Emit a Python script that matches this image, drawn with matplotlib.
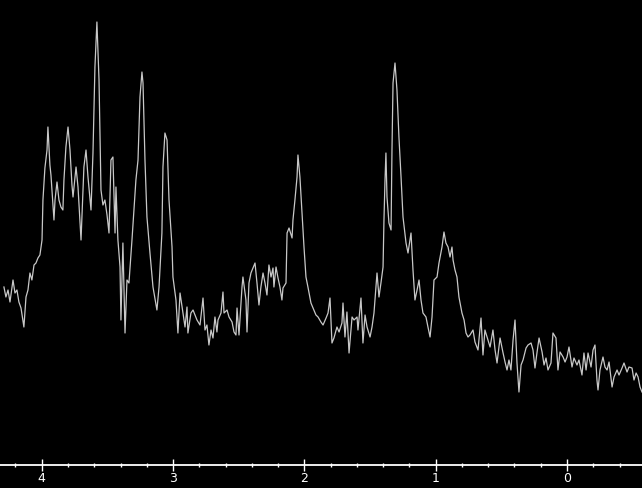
import matplotlib.pyplot as plt
from matplotlib.ticker import MultipleLocator

# chemical shift (ppm) and intensity (arbitrary units)
shift = [
    4.288, 4.273, 4.257, 4.242, 4.219, 4.204, 4.189, 4.174, 4.158, 4.136,
    4.120, 4.105, 4.090, 4.075, 4.059, 4.044, 4.029, 4.014, 3.998, 3.991,
    3.976, 3.960, 3.953, 3.938, 3.930, 3.915, 3.907, 3.899, 3.884, 3.869,
    3.854, 3.839, 3.831, 3.816, 3.800, 3.785, 3.770, 3.762, 3.739, 3.724,
    3.701, 3.679, 3.663, 3.648, 3.625, 3.610, 3.595, 3.580, 3.564, 3.549,
    3.534, 3.519, 3.503, 3.488, 3.473, 3.458, 3.442, 3.435, 3.420, 3.404,
    3.397, 3.382, 3.366, 3.351, 3.336, 3.313, 3.290, 3.283, 3.267, 3.252,
    3.237, 3.229, 3.214, 3.199, 3.176, 3.153, 3.123, 3.107, 3.085, 3.077,
    3.062, 3.046, 3.031, 3.008, 3.001, 2.978, 2.963, 2.947, 2.925, 2.909,
    2.894, 2.887, 2.864, 2.848, 2.818, 2.795, 2.772, 2.757, 2.742, 2.727,
    2.711, 2.696, 2.681, 2.666, 2.658, 2.635, 2.620, 2.612, 2.589, 2.574,
    2.551, 2.536, 2.521, 2.513, 2.498, 2.475, 2.468, 2.445, 2.437, 2.422,
    2.407, 2.376, 2.361, 2.346, 2.331, 2.315, 2.300, 2.285, 2.270, 2.254,
    2.239, 2.232, 2.216, 2.201, 2.186, 2.171, 2.163, 2.140, 2.132, 2.117,
    2.094, 2.087, 2.072, 2.056, 2.049, 2.034, 2.018, 2.003, 1.988, 1.973,
    1.950, 1.934, 1.912, 1.896, 1.874, 1.858, 1.835, 1.820, 1.805, 1.790,
    1.775, 1.752, 1.736, 1.714, 1.706, 1.691, 1.676, 1.660, 1.637, 1.622,
    1.599, 1.592, 1.569, 1.554, 1.538, 1.523, 1.500, 1.485, 1.470, 1.455,
    1.447, 1.432, 1.417, 1.401, 1.394, 1.386, 1.379, 1.371, 1.356, 1.340,
    1.333, 1.325, 1.310, 1.295, 1.280, 1.264, 1.249, 1.226, 1.211, 1.188,
    1.173, 1.158, 1.142, 1.127, 1.112, 1.097, 1.074, 1.059, 1.043, 1.028,
    1.013, 0.990, 0.975, 0.952, 0.937, 0.922, 0.906, 0.891, 0.876, 0.868,
    0.853, 0.838, 0.823, 0.800, 0.784, 0.769, 0.754, 0.739, 0.716, 0.701,
    0.678, 0.655, 0.640, 0.625, 0.609, 0.586, 0.564, 0.548, 0.533, 0.510,
    0.487, 0.472, 0.457, 0.442, 0.427, 0.411, 0.396, 0.381, 0.366, 0.350,
    0.335, 0.312, 0.297, 0.274, 0.259, 0.244, 0.228, 0.213, 0.190, 0.175,
    0.160, 0.145, 0.122, 0.107, 0.084, 0.069, 0.053, 0.030, 0.015, 0.000,
    -0.015, -0.038, -0.053, -0.076, -0.091, -0.114, -0.129, -0.145, -0.160, -0.183,
    -0.198, -0.213, -0.228, -0.236, -0.251, -0.274, -0.289, -0.305, -0.320, -0.343,
    -0.358, -0.381, -0.396, -0.419, -0.434, -0.457, -0.472, -0.495, -0.510, -0.526,
    -0.541, -0.556, -0.571,
]
intensity = [
    178, 168, 175, 163, 185, 172, 175, 163, 157, 138,
    168, 175, 192, 185, 200, 202, 207, 210, 225, 265,
    297, 315, 338, 300, 290, 260, 245, 265, 283, 265,
    258, 255, 285, 318, 338, 315, 280, 268, 298, 278,
    225, 298, 315, 288, 255, 312, 398, 443, 385, 275,
    260, 265, 250, 232, 305, 308, 232, 278, 225, 198,
    145, 222, 132, 185, 182, 225, 272, 285, 305, 368,
    393, 382, 305, 248, 212, 178, 155, 178, 232, 298,
    332, 325, 265, 218, 188, 165, 132, 172, 152, 138,
    158, 132, 152, 155, 145, 140, 167, 135, 140, 120,
    135, 127, 148, 133, 145, 152, 173, 152, 155, 148,
    143, 133, 130, 157, 130, 178, 188, 165, 133, 182,
    192, 202, 182, 160, 178, 192, 182, 170, 200, 188,
    197, 178, 198, 187, 178, 165, 177, 182, 232, 237,
    227, 245, 265, 288, 310, 288, 252, 218, 188, 178,
    162, 157, 150, 148, 143, 140, 147, 152, 167, 122,
    127, 138, 133, 142, 162, 128, 153, 112, 148, 145,
    148, 135, 167, 122, 150, 138, 128, 138, 152, 178,
    192, 168, 182, 198, 245, 285, 312, 268, 242, 235,
    315, 382, 402, 375, 328, 288, 248, 222, 212, 232,
    195, 165, 175, 185, 165, 152, 148, 138, 128, 148,
    185, 188, 202, 218, 233, 222, 218, 208, 218, 205,
    195, 188, 168, 152, 145, 132, 128, 130, 135, 123,
    115, 147, 110, 135, 128, 118, 135, 115, 102, 127,
    112, 103, 95, 105, 95, 125, 145, 102, 73, 100,
    105, 117, 120, 122, 115, 97, 113, 127, 113, 100,
    107, 95, 102, 132, 127, 95, 113, 108, 103, 108,
    118, 98, 107, 100, 105, 90, 112, 95, 112, 98,
    115, 120, 85, 75, 95, 108, 98, 95, 103, 78,
    88, 95, 90, 97, 102, 93, 98, 97, 85, 92,
    88, 78, 73,
]

fig = plt.figure(figsize=(6.42, 4.88), dpi=100, facecolor="black")
ax = fig.add_axes([0, 0, 1, 1], facecolor="black")

ax.plot(shift, intensity, color="#c8c8c8", linewidth=0.9)

ax.set_xlim(4.318, -0.571)
ax.set_ylim(-23, 465)

for side in ["top", "left", "right"]:
    ax.spines[side].set_visible(False)
ax.spines["bottom"].set_position(("data", 0))
ax.spines["bottom"].set_color("white")
ax.spines["bottom"].set_linewidth(1.3)

ax.xaxis.set_major_locator(MultipleLocator(1))
ax.xaxis.set_minor_locator(MultipleLocator(0.2))
ax.tick_params(axis="x", which="major", direction="inout", length=8, width=1,
               color="white", labelcolor="white", labelsize=9, pad=1)
ax.tick_params(axis="x", which="minor", direction="inout", length=3, width=1,
               color="white")
ax.set_yticks([])

fig.savefig("out.png", dpi=100, facecolor="black")
